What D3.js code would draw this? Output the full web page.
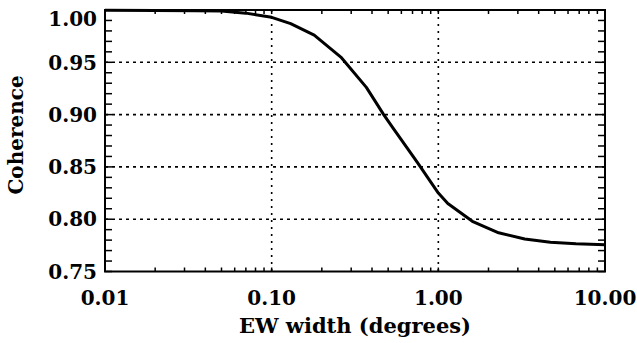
<!DOCTYPE html>
<html>
<head>
<meta charset="utf-8">
<script src="https://cdn.jsdelivr.net/npm/d3@7"></script>
<style>
  body { margin: 0; background: #fff; }
  svg text { font-family: "DejaVu Serif", serif; font-weight: bold; fill: #000; }
</style>
</head>
<body>
<div id="chart"></div>
<script>
// Data
const widths = [0.01, 0.02, 0.035, 0.05, 0.07, 0.10, 0.13, 0.18, 0.26, 0.37, 0.47, 0.53, 0.75, 1.0, 1.14, 1.6, 2.3, 3.3, 4.7, 6.7, 10];
const coherence = [0.9997, 0.9996, 0.9993, 0.999, 0.997, 0.993, 0.987, 0.976, 0.955, 0.926, 0.90, 0.888, 0.854, 0.825, 0.815, 0.798, 0.787, 0.781, 0.778, 0.7765, 0.7756];
const xTickValues = [0.01, 0.1, 1, 10];
const xTickLabels = ["0.01", "0.10", "1.00", "10.00"];
const yTickValues = [0.75, 0.80, 0.85, 0.90, 0.95, 1.00];
const yTickLabels = ["0.75", "0.80", "0.85", "0.90", "0.95", "1.00"];

const W = 637, H = 343;
const pLeft = 105, pRight = 605, pTop = 10, pBottom = 271.5;

const svg = d3.select("#chart").append("svg")
    .attr("width", W).attr("height", H);

const x = d3.scaleLog().domain([0.01, 10]).range([pLeft, pRight]);
const y = d3.scaleLinear().domain([0.75, 1.0]).range([pBottom, pTop]);

// minor tick positions
const xMinor = [];
[0.01, 0.1, 1].forEach(d => { for (let k = 1; k <= 9; k++) xMinor.push(d * k); });
xMinor.push(10);
const yMinor = d3.range(0, 26).map(i => 0.75 + i * 0.01);

// dotted grid
svg.append("g").selectAll("line")
    .data(yTickValues.slice(1, -1))
    .enter().append("line")
    .attr("x1", pLeft).attr("x2", pRight)
    .attr("y1", d => y(d)).attr("y2", d => y(d))
    .attr("stroke", "#000").attr("stroke-width", 1.6)
    .attr("stroke-dasharray", "3,4");

svg.append("g").selectAll("line")
    .data(xTickValues.slice(1, -1))
    .enter().append("line")
    .attr("x1", d => x(d)).attr("x2", d => x(d))
    .attr("y1", pTop).attr("y2", pBottom)
    .attr("stroke", "#000").attr("stroke-width", 1.6)
    .attr("stroke-dasharray", "2,5");

// inward ticks on all four sides
const tickG = svg.append("g").attr("stroke", "#000").attr("stroke-width", 1.5);
xMinor.forEach(d => {
    tickG.append("line").attr("x1", x(d)).attr("x2", x(d)).attr("y1", pBottom).attr("y2", pBottom - 4);
    tickG.append("line").attr("x1", x(d)).attr("x2", x(d)).attr("y1", pTop).attr("y2", pTop + 4);
});
yMinor.forEach(d => {
    tickG.append("line").attr("y1", y(d)).attr("y2", y(d)).attr("x1", pLeft).attr("x2", pLeft + 7);
    tickG.append("line").attr("y1", y(d)).attr("y2", y(d)).attr("x1", pRight).attr("x2", pRight - 7);
});

// curve
const line = d3.line()
    .x((d, i) => x(widths[i]))
    .y(d => y(d));

svg.append("path")
    .datum(coherence)
    .attr("d", line)
    .attr("fill", "none")
    .attr("stroke", "#000")
    .attr("stroke-width", 3)
    .attr("stroke-linejoin", "round");

// frame
svg.append("rect")
    .attr("x", pLeft).attr("y", pTop)
    .attr("width", pRight - pLeft).attr("height", pBottom - pTop)
    .attr("fill", "none").attr("stroke", "#000").attr("stroke-width", 2);

// tick labels
svg.append("g").selectAll("text")
    .data(xTickValues)
    .enter().append("text")
    .attr("x", d => x(d))
    .attr("y", 305)
    .attr("text-anchor", "middle")
    .style("font-size", "20px")
    .text((d, i) => xTickLabels[i]);

svg.append("g").selectAll("text")
    .data(yTickValues)
    .enter().append("text")
    .attr("x", 97)
    .attr("y", d => Math.max(y(d), pTop + 9))
    .attr("dy", "0.36em")
    .attr("text-anchor", "end")
    .style("font-size", "20px")
    .text((d, i) => yTickLabels[i]);

// axis titles
svg.append("text")
    .attr("x", (pLeft + pRight) / 2)
    .attr("y", 333)
    .attr("text-anchor", "middle")
    .style("font-size", "21px")
    .text("EW width (degrees)");

svg.append("text")
    .attr("transform", "translate(23,135) rotate(-90)")
    .attr("text-anchor", "middle")
    .style("font-size", "20px")
    .text("Coherence");
</script>
</body>
</html>
